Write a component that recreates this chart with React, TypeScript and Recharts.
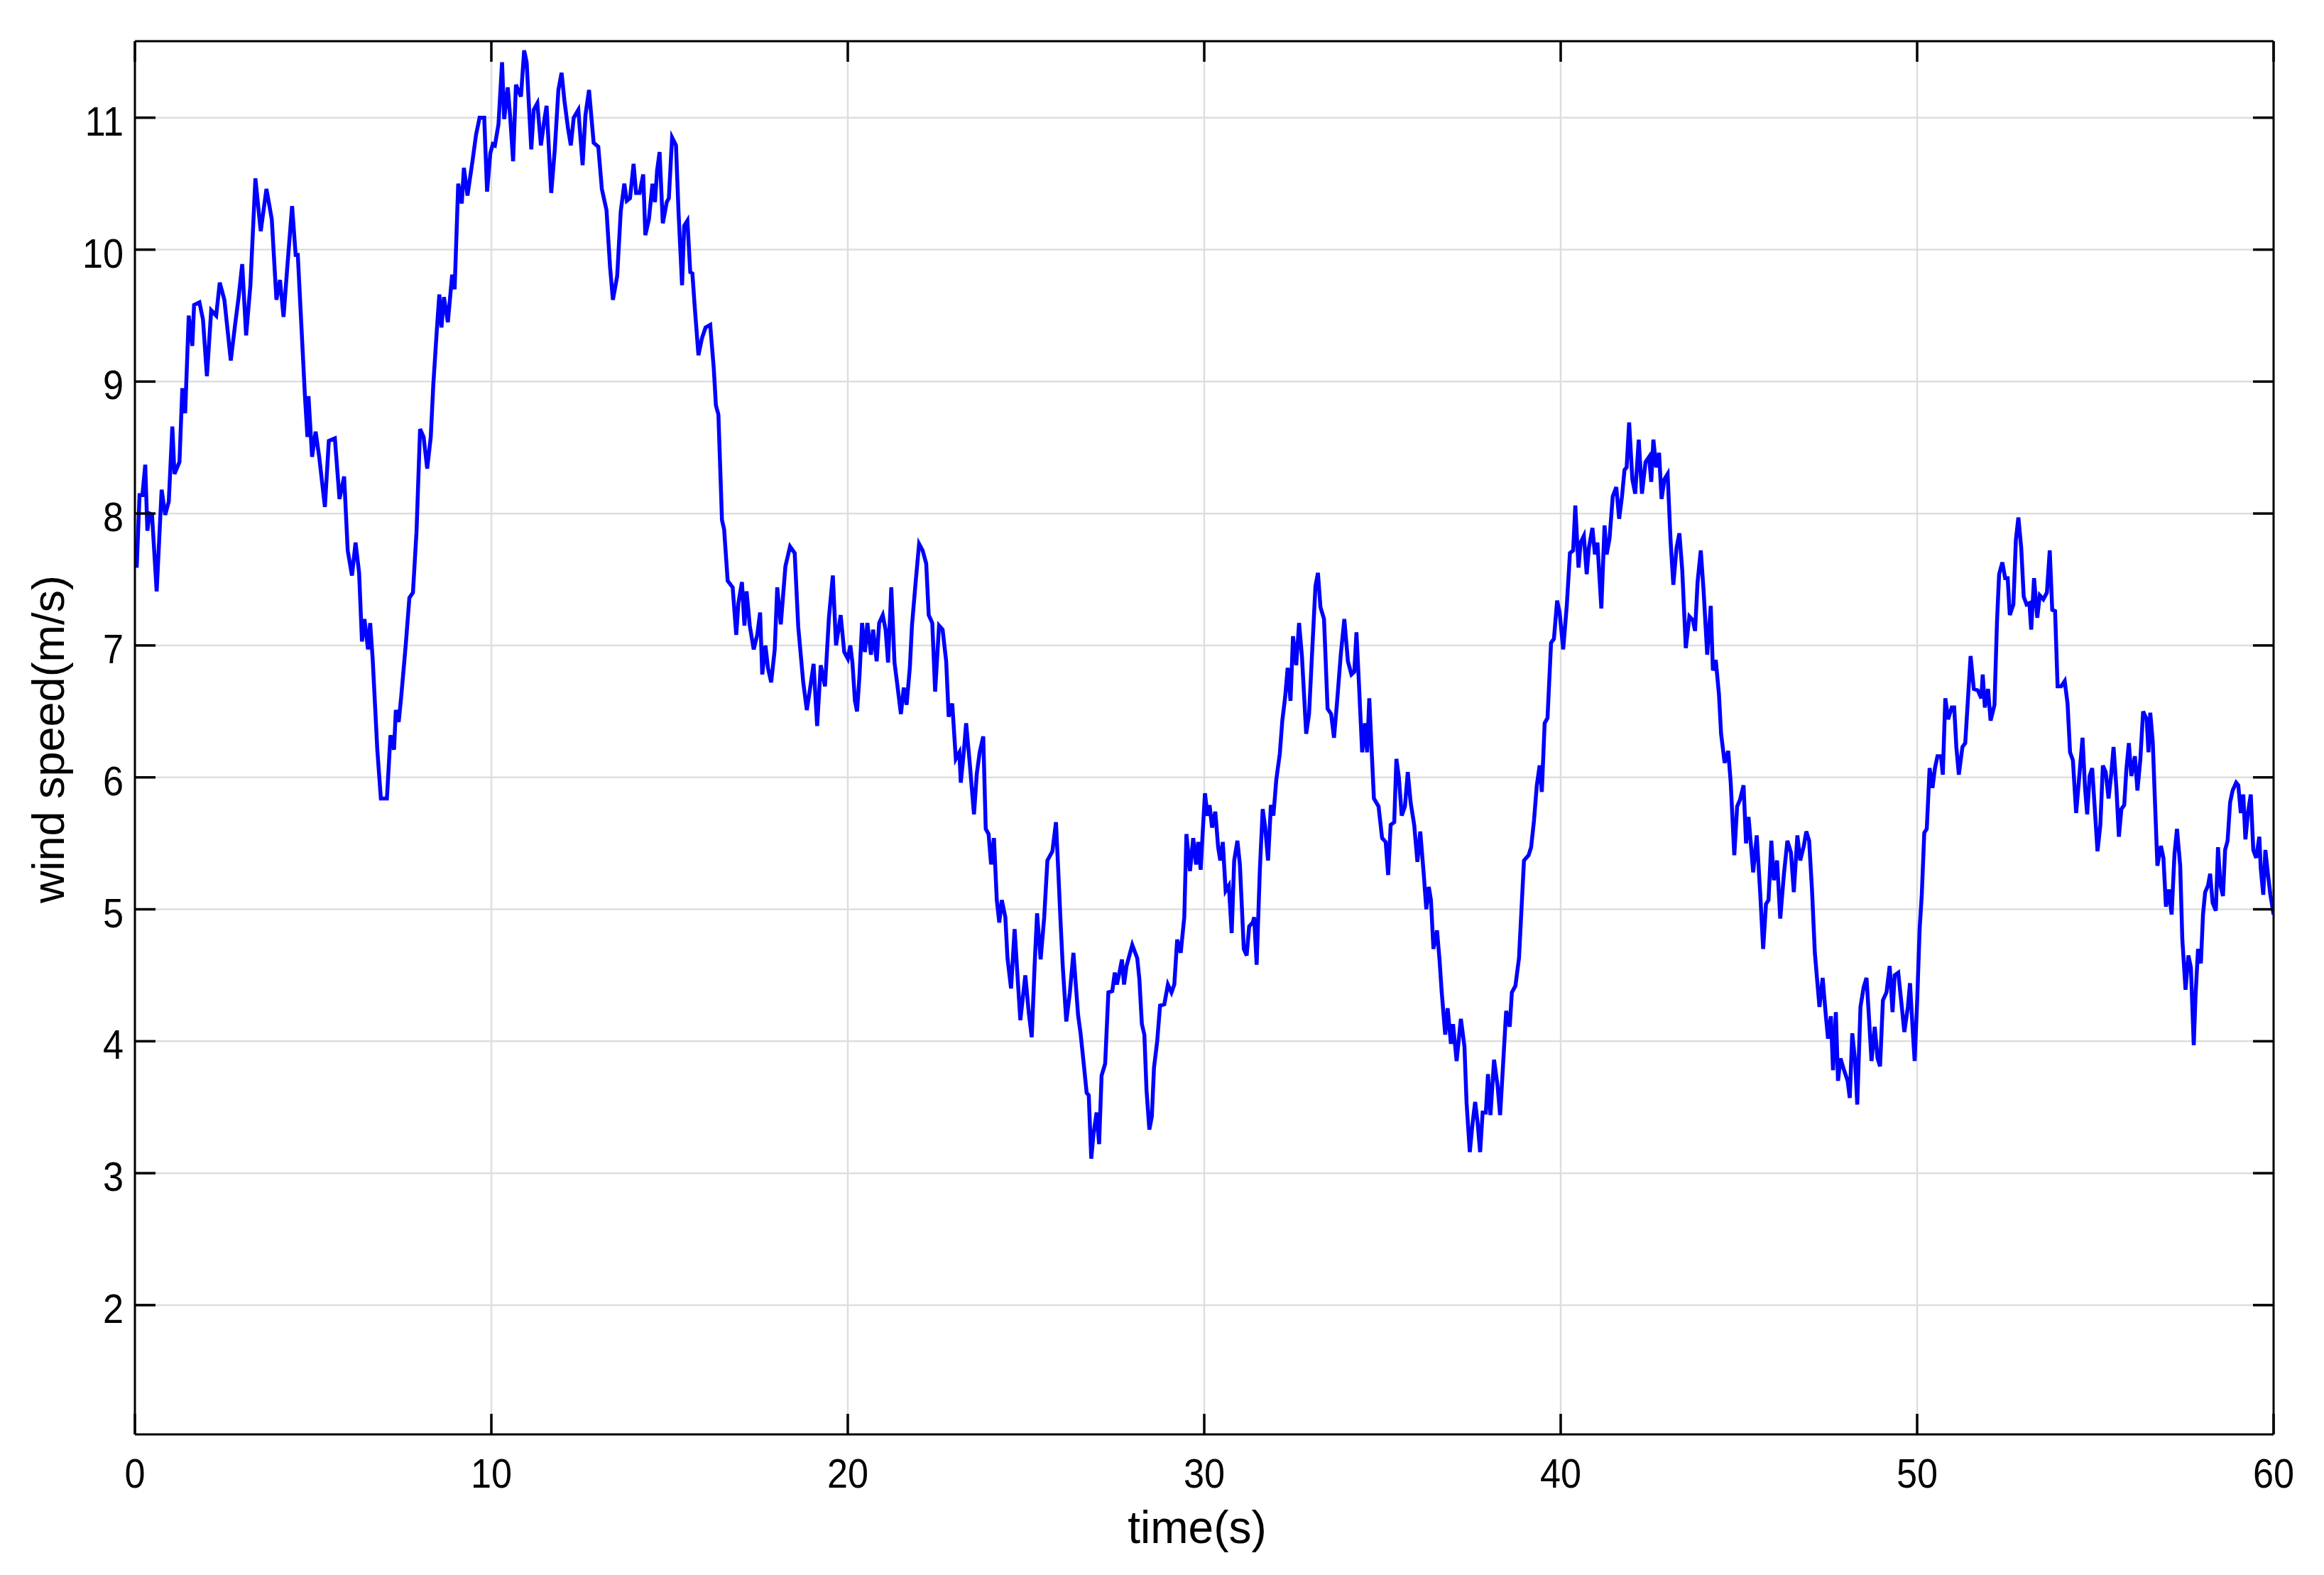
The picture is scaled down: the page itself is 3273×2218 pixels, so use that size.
import {
  LineChart,
  Line,
  XAxis,
  YAxis,
  CartesianGrid,
} from "recharts";

// time (s) and wind speed (m/s)
const times = [
  0.0, 0.05, 0.13, 0.21, 0.29, 0.35, 0.41, 0.48, 0.61, 0.75, 0.85, 0.95, 1.05, 1.11, 1.25, 1.33, 1.41, 1.51, 1.61, 1.66,
  1.81, 1.91, 2.02, 2.14, 2.28, 2.38, 2.51, 2.69, 2.81, 2.91, 3.01, 3.12, 3.24, 3.38, 3.53, 3.69, 3.84, 3.97, 4.07, 4.17,
  4.27, 4.41, 4.51, 4.57, 4.77, 4.84, 4.87, 4.97, 5.07, 5.17, 5.33, 5.44, 5.61, 5.74, 5.87, 5.97, 6.09, 6.19, 6.29, 6.37,
  6.44, 6.54, 6.6, 6.67, 6.8, 6.9, 7.07, 7.17, 7.27, 7.32, 7.4, 7.47, 7.6, 7.7, 7.8, 7.9, 8.0, 8.1, 8.2, 8.3,
  8.37, 8.47, 8.54, 8.6, 8.67, 8.78, 8.9, 8.97, 9.07, 9.17, 9.23, 9.33, 9.47, 9.57, 9.67, 9.8, 9.88, 9.97, 10.04, 10.1,
  10.2, 10.3, 10.36, 10.46, 10.53, 10.61, 10.69, 10.83, 10.92, 10.99, 11.12, 11.19, 11.29, 11.39, 11.49, 11.55, 11.68, 11.78, 11.88, 11.97,
  12.05, 12.15, 12.23, 12.31, 12.44, 12.56, 12.64, 12.74, 12.87, 13.0, 13.1, 13.23, 13.33, 13.41, 13.53, 13.63, 13.73, 13.8, 13.89, 13.99,
  14.06, 14.16, 14.26, 14.32, 14.42, 14.52, 14.59, 14.65, 14.72, 14.81, 14.92, 14.98, 15.07, 15.18, 15.25, 15.35, 15.41, 15.5, 15.58, 15.64,
  15.71, 15.81, 15.91, 16.01, 16.14, 16.24, 16.3, 16.37, 16.47, 16.53, 16.63, 16.77, 16.87, 16.93, 17.03, 17.1, 17.16, 17.25, 17.36, 17.46,
  17.54, 17.6, 17.69, 17.76, 17.85, 17.95, 18.02, 18.12, 18.25, 18.38, 18.51, 18.61, 18.75, 18.85, 18.95, 19.04, 19.14, 19.24, 19.36, 19.47,
  19.58, 19.67, 19.8, 19.9, 20.0, 20.07, 20.13, 20.2, 20.26, 20.33, 20.4, 20.48, 20.55, 20.65, 20.71, 20.81, 20.88, 20.98, 21.06, 21.13,
  21.22, 21.31, 21.39, 21.49, 21.57, 21.65, 21.74, 21.8, 21.9, 22.0, 22.1, 22.2, 22.27, 22.37, 22.45, 22.56, 22.66, 22.76, 22.83, 22.93,
  23.03, 23.13, 23.17, 23.26, 23.32, 23.42, 23.54, 23.62, 23.7, 23.8, 23.87, 23.95, 24.02, 24.1, 24.18, 24.25, 24.32, 24.42, 24.48, 24.58,
  24.68, 24.76, 24.84, 24.98, 25.08, 25.16, 25.24, 25.31, 25.41, 25.51, 25.6, 25.74, 25.84, 25.9, 25.97, 26.03, 26.13, 26.23, 26.33, 26.46,
  26.53, 26.63, 26.7, 26.76, 26.83, 26.89, 26.98, 27.05, 27.12, 27.22, 27.31, 27.42, 27.49, 27.55, 27.62, 27.69, 27.75, 27.82, 27.88, 27.98,
  28.12, 28.18, 28.25, 28.32, 28.38, 28.46, 28.53, 28.59, 28.68, 28.76, 28.88, 28.98, 29.08, 29.16, 29.24, 29.34, 29.44, 29.5, 29.6, 29.69,
  29.77, 29.83, 29.9, 29.96, 30.02, 30.09, 30.15, 30.22, 30.31, 30.39, 30.45, 30.52, 30.6, 30.69, 30.77, 30.84, 30.93, 31.0, 31.11, 31.19,
  31.26, 31.36, 31.4, 31.47, 31.56, 31.64, 31.71, 31.79, 31.87, 31.94, 32.02, 32.12, 32.19, 32.27, 32.34, 32.42, 32.49, 32.58, 32.66, 32.74,
  32.86, 32.94, 33.04, 33.12, 33.19, 33.26, 33.36, 33.46, 33.56, 33.64, 33.72, 33.83, 33.93, 34.03, 34.13, 34.21, 34.27, 34.34, 34.43, 34.51,
  34.57, 34.63, 34.69, 34.76, 34.89, 34.99, 35.09, 35.16, 35.23, 35.33, 35.39, 35.46, 35.54, 35.63, 35.71, 35.79, 35.89, 35.98, 36.06, 36.16,
  36.23, 36.3, 36.36, 36.43, 36.53, 36.6, 36.66, 36.76, 36.83, 36.92, 36.98, 37.08, 37.2, 37.3, 37.36, 37.45, 37.52, 37.6, 37.67, 37.74,
  37.81, 37.9, 37.96, 38.03, 38.13, 38.23, 38.3, 38.37, 38.47, 38.57, 38.63, 38.73, 38.83, 38.9, 38.97, 39.1, 39.17, 39.25, 39.33, 39.41,
  39.47, 39.55, 39.63, 39.73, 39.81, 39.9, 39.97, 40.07, 40.17, 40.26, 40.35, 40.41, 40.5, 40.56, 40.65, 40.73, 40.79, 40.89, 40.96, 41.03,
  41.14, 41.23, 41.29, 41.37, 41.46, 41.56, 41.64, 41.72, 41.79, 41.85, 41.92, 42.01, 42.09, 42.19, 42.28, 42.38, 42.48, 42.54, 42.6, 42.68,
  42.76, 42.83, 42.91, 43.0, 43.08, 43.16, 43.25, 43.33, 43.41, 43.51, 43.61, 43.71, 43.77, 43.84, 43.93, 44.01, 44.11, 44.21, 44.27, 44.35,
  44.44, 44.5, 44.6, 44.7, 44.77, 44.87, 44.95, 45.03, 45.13, 45.2, 45.27, 45.34, 45.4, 45.5, 45.6, 45.68, 45.76, 45.83, 45.91, 45.98,
  46.07, 46.16, 46.26, 46.36, 46.46, 46.54, 46.64, 46.72, 46.82, 46.89, 46.97, 47.05, 47.13, 47.19, 47.26, 47.35, 47.44, 47.5, 47.58, 47.64,
  47.72, 47.78, 47.85, 47.95, 48.05, 48.11, 48.18, 48.26, 48.32, 48.41, 48.5, 48.58, 48.64, 48.72, 48.81, 48.89, 48.96, 49.04, 49.14, 49.23,
  49.31, 49.37, 49.47, 49.57, 49.64, 49.74, 49.8, 49.87, 49.93, 50.0, 50.07, 50.13, 50.2, 50.27, 50.35, 50.43, 50.5, 50.57, 50.67, 50.72,
  50.79, 50.87, 50.97, 51.04, 51.1, 51.17, 51.27, 51.35, 51.44, 51.5, 51.59, 51.7, 51.8, 51.84, 51.9, 51.99, 52.06, 52.17, 52.24, 52.3,
  52.39, 52.47, 52.54, 52.6, 52.7, 52.77, 52.84, 52.92, 52.99, 53.07, 53.15, 53.2, 53.28, 53.37, 53.44, 53.54, 53.64, 53.72, 53.79, 53.87,
  53.94, 54.04, 54.14, 54.22, 54.29, 54.37, 54.46, 54.54, 54.64, 54.71, 54.77, 54.84, 54.91, 54.97, 55.06, 55.14, 55.21, 55.29, 55.37, 55.44,
  55.51, 55.59, 55.66, 55.73, 55.81, 55.87, 55.94, 56.01, 56.11, 56.18, 56.26, 56.34, 56.44, 56.49, 56.54, 56.61, 56.68, 56.74, 56.84, 56.91,
  56.98, 57.06, 57.14, 57.22, 57.29, 57.38, 57.44, 57.53, 57.61, 57.68, 57.76, 57.81, 57.88, 57.96, 58.02, 58.08, 58.16, 58.22, 58.29, 58.38,
  58.44, 58.51, 58.58, 58.64, 58.71, 58.78, 58.85, 58.95, 59.01, 59.08, 59.15, 59.21, 59.28, 59.36, 59.43, 59.51, 59.6, 59.64, 59.71, 59.77,
  59.84, 59.91, 60.0,
];

const speeds = [
  7.75, 7.59, 8.14, 8.14, 8.37, 7.87, 8.0, 7.99, 7.41, 8.18, 7.99, 8.09, 8.66, 8.3, 8.39, 8.95, 8.76, 9.5, 9.27, 9.58,
  9.6, 9.47, 9.04, 9.54, 9.5, 9.75, 9.62, 9.16, 9.43, 9.64, 9.89, 9.35, 9.73, 10.54, 10.14, 10.46, 10.23, 9.62, 9.77, 9.49,
  9.85, 10.33, 9.96, 9.96, 8.89, 8.58, 8.89, 8.43, 8.62, 8.43, 8.05, 8.55, 8.57, 8.11, 8.28, 7.72, 7.53, 7.78, 7.55, 7.03,
  7.2, 6.97, 7.17, 6.9, 6.21, 5.84, 5.84, 6.32, 6.21, 6.51, 6.42, 6.61, 7.01, 7.36, 7.4, 7.86, 8.64, 8.58, 8.34, 8.58,
  8.97, 9.39, 9.66, 9.41, 9.64, 9.45, 9.81, 9.7, 10.5, 10.35, 10.62, 10.41, 10.67, 10.87, 11.0, 11.0, 10.44, 10.73, 10.8, 10.79,
  10.95, 11.42, 10.99, 11.23, 11.0, 10.67, 11.25, 11.16, 11.51, 11.42, 10.76, 11.06, 11.11, 10.79, 10.99, 11.09, 10.43, 10.76, 11.21, 11.34,
  11.13, 10.92, 10.79, 11.0, 11.06, 10.64, 11.02, 11.21, 10.81, 10.78, 10.46, 10.3, 9.87, 9.62, 9.8, 10.29, 10.5, 10.37, 10.39, 10.65,
  10.43, 10.43, 10.57, 10.11, 10.23, 10.5, 10.36, 10.6, 10.74, 10.2, 10.36, 10.39, 10.85, 10.79, 10.29, 9.73, 10.18, 10.22, 9.83, 9.82,
  9.55, 9.2, 9.33, 9.41, 9.43, 9.1, 8.82, 8.75, 7.95, 7.88, 7.49, 7.44, 7.08, 7.32, 7.48, 7.15, 7.41, 7.15, 6.97, 7.08,
  7.25, 6.78, 7.0, 6.83, 6.72, 6.97, 7.44, 7.16, 7.6, 7.75, 7.7, 7.14, 6.72, 6.51, 6.69, 6.86, 6.39, 6.85, 6.69, 7.21,
  7.53, 7.0, 7.23, 6.95, 6.9, 7.0, 6.87, 6.58, 6.5, 6.78, 7.17, 6.95, 7.17, 6.93, 7.12, 6.88, 7.17, 7.23, 7.12, 6.87,
  7.44, 6.87, 6.7, 6.48, 6.68, 6.55, 6.83, 7.15, 7.47, 7.77, 7.72, 7.62, 7.23, 7.17, 6.65, 7.15, 7.12, 6.88, 6.46, 6.56,
  6.14, 6.19, 5.96, 6.21, 6.41, 6.11, 5.72, 6.03, 6.19, 6.31, 5.61, 5.57, 5.34, 5.54, 5.07, 4.9, 5.07, 4.94, 4.63, 4.4,
  4.85, 4.5, 4.16, 4.5, 4.21, 4.03, 4.57, 4.97, 4.62, 4.94, 5.37, 5.44, 5.66, 5.32, 4.9, 4.57, 4.15, 4.37, 4.67, 4.2,
  4.06, 3.8, 3.61, 3.59, 3.11, 3.29, 3.46, 3.22, 3.74, 3.83, 4.37, 4.38, 4.52, 4.43, 4.52, 4.62, 4.43, 4.57, 4.63, 4.73,
  4.63, 4.47, 4.13, 4.05, 3.63, 3.33, 3.43, 3.8, 4.0, 4.27, 4.28, 4.43, 4.37, 4.43, 4.77, 4.67, 4.94, 5.57, 5.29, 5.54,
  5.34, 5.51, 5.3, 5.6, 5.88, 5.71, 5.79, 5.62, 5.74, 5.47, 5.37, 5.51, 5.14, 5.18, 4.82, 5.37, 5.52, 5.34, 4.7, 4.65,
  4.87, 4.9, 4.94, 4.58, 5.3, 5.76, 5.62, 5.37, 5.79, 5.71, 5.98, 6.18, 6.43, 6.61, 6.83, 6.58, 7.07, 6.85, 7.17, 6.92,
  6.33, 6.48, 7.02, 7.45, 7.55, 7.29, 7.2, 6.52, 6.48, 6.3, 6.55, 6.93, 7.2, 6.88, 6.78, 6.8, 7.1, 6.71, 6.19, 6.41,
  6.19, 6.6, 6.24, 5.84, 5.78, 5.54, 5.51, 5.26, 5.64, 5.66, 6.14, 6.0, 5.71, 5.78, 6.04, 5.81, 5.64, 5.36, 5.59, 5.26,
  5.0, 5.17, 5.07, 4.7, 4.84, 4.62, 4.38, 4.05, 4.25, 3.98, 4.13, 3.85, 4.17, 3.96, 3.53, 3.16, 3.36, 3.54, 3.38, 3.16,
  3.46, 3.46, 3.75, 3.44, 3.86, 3.66, 3.44, 3.76, 4.23, 4.11, 4.37, 4.42, 4.63, 5.0, 5.37, 5.41, 5.47, 5.67, 5.94, 6.09,
  5.89, 6.41, 6.45, 7.02, 7.05, 7.34, 7.25, 6.97, 7.3, 7.7, 7.72, 8.06, 7.59, 7.78, 7.83, 7.54, 7.74, 7.89, 7.69, 7.78,
  7.28, 7.91, 7.69, 7.81, 8.13, 8.2, 7.96, 8.13, 8.33, 8.35, 8.69, 8.26, 8.15, 8.56, 8.15, 8.39, 8.43, 8.24, 8.56, 8.35,
  8.46, 8.11, 8.26, 8.3, 7.81, 7.46, 7.74, 7.85, 7.57, 6.98, 7.22, 7.19, 7.11, 7.48, 7.72, 7.41, 6.93, 7.3, 6.81, 6.89,
  6.63, 6.33, 6.11, 6.2, 5.96, 5.41, 5.78, 5.83, 5.94, 5.5, 5.7, 5.48, 5.28, 5.56, 5.11, 4.7, 5.04, 5.07, 5.52, 5.22,
  5.37, 4.93, 5.26, 5.52, 5.43, 5.13, 5.56, 5.37, 5.48, 5.59, 5.52, 5.15, 4.67, 4.48, 4.26, 4.48, 4.19, 4.02, 4.19, 3.78,
  4.22, 3.7, 3.87, 3.78, 3.7, 3.57, 4.06, 3.85, 3.52, 4.26, 4.41, 4.48, 4.22, 3.85, 4.11, 3.87, 3.81, 4.31, 4.37, 4.57,
  4.22, 4.5, 4.52, 4.26, 4.07, 4.26, 4.44, 4.11, 3.85, 4.3, 4.85, 5.11, 5.58, 5.61, 6.07, 5.92, 6.07, 6.16, 6.16, 6.02,
  6.6, 6.44, 6.53, 6.53, 6.23, 6.02, 6.23, 6.26, 6.66, 6.92, 6.67, 6.66, 6.6, 6.78, 6.53, 6.67, 6.43, 6.55, 7.18, 7.54,
  7.63, 7.51, 7.51, 7.23, 7.31, 7.8, 7.97, 7.74, 7.37, 7.31, 7.32, 7.12, 7.51, 7.21, 7.38, 7.35, 7.4, 7.72, 7.27, 7.26,
  6.69, 6.69, 6.73, 6.56, 6.19, 6.13, 5.73, 5.98, 6.3, 5.92, 5.72, 6.01, 6.07, 5.82, 5.44, 5.64, 6.09, 6.04, 5.84, 6.01,
  6.23, 5.92, 5.55, 5.76, 5.79, 6.06, 6.26, 6.01, 6.16, 5.9, 6.13, 6.5, 6.44, 6.19, 6.49, 6.27, 5.76, 5.33, 5.48, 5.39,
  5.02, 5.15, 4.96, 5.42, 5.61, 5.33, 4.77, 4.39, 4.65, 4.56, 3.97, 4.34, 4.7, 4.59, 4.96, 5.13, 5.18, 5.27, 5.05, 4.99,
  5.47, 5.18, 5.1, 5.45, 5.52, 5.81, 5.9, 5.96, 5.94, 5.73, 5.87, 5.53, 5.73, 5.87, 5.45, 5.39, 5.55, 5.31, 5.11, 5.45,
  5.27, 5.11, 4.96,
];

const xTicks = [0, 10, 20, 30, 40, 50, 60];
const yTicks = [2, 3, 4, 5, 6, 7, 8, 9, 10, 11];
const yDomain = [1.02, 11.58];

const data = times.map((t, i) => ({ time: t, speed: speeds[i] }));

const FONT = "'Liberation Sans', Arial, Helvetica, sans-serif";
const frame = { stroke: "#000", strokeWidth: 3 };
const tickMark = { stroke: "#000", strokeWidth: 3.5 };

function YTick(props: any) {
  const { x, y, payload } = props;
  return (
    <g transform={`translate(${x},${y}) scale(0.9,1)`}>
      <text x={0} y={0} dy={25} textAnchor="end" fontSize={58} fontFamily={FONT} fill="#000">
        {payload.value}
      </text>
    </g>
  );
}

function XTick(props: any) {
  const { x, y, payload } = props;
  return (
    <g transform={`translate(${x},${y}) scale(0.9,1)`}>
      <text x={0} y={0} dy={42} textAnchor="middle" fontSize={58} fontFamily={FONT} fill="#000">
        {payload.value}
      </text>
    </g>
  );
}

// mirrored axes draw only their tick marks
const NoLabel = () => <g />;

export default function App() {
  return (
    <div style={{ position: "absolute", left: 0, top: 0, width: 3273, height: 2218, background: "#fff" }}>
      <LineChart
        width={3273}
        height={2218}
        data={data}
        margin={{ top: 48, right: 61, bottom: 98, left: 90 }}
      >
        <CartesianGrid stroke="#dedede" strokeWidth={2.5} />
        <XAxis
          dataKey="time"
          type="number"
          domain={[0, 60]}
          ticks={xTicks}
          height={100}
          tickSize={-29}
          tickMargin={62}
          axisLine={frame}
          tickLine={tickMark}
          tick={(p: any) => <XTick {...p} />}
          allowDataOverflow
        />
        <XAxis
          xAxisId="top"
          dataKey="time"
          orientation="top"
          type="number"
          domain={[0, 60]}
          ticks={xTicks}
          height={10}
          tickSize={-29}
          axisLine={frame}
          tickLine={tickMark}
          tick={NoLabel}
          allowDataOverflow
        />
        <YAxis
          type="number"
          domain={yDomain}
          ticks={yTicks}
          width={100}
          tickSize={-29}
          tickMargin={45}
          axisLine={frame}
          tickLine={tickMark}
          tick={(p: any) => <YTick {...p} />}
          allowDataOverflow
        />
        <YAxis
          yAxisId="right"
          orientation="right"
          type="number"
          domain={yDomain}
          ticks={yTicks}
          width={10}
          tickSize={-29}
          axisLine={frame}
          tickLine={tickMark}
          tick={NoLabel}
          allowDataOverflow
        />
        {/* invisible twin so the mirrored top/right axes have a series */}
        <Line
          xAxisId="top"
          yAxisId="right"
          type="linear"
          dataKey="speed"
          stroke="none"
          dot={false}
          isAnimationActive={false}
        />
        <Line
          type="linear"
          dataKey="speed"
          stroke="#0000ff"
          strokeWidth={5.5}
          strokeLinejoin="miter"
          dot={false}
          isAnimationActive={false}
        />
        <text x={1686} y={2173} textAnchor="middle" fontSize={64} fontFamily={FONT} fill="#000">
          time(s)
        </text>
        <text
          x={90}
          y={1041}
          transform="rotate(-90 90 1041)"
          textAnchor="middle"
          fontSize={63}
          fontFamily={FONT}
          fill="#000"
        >
          wind speed(m/s)
        </text>
      </LineChart>
    </div>
  );
}
